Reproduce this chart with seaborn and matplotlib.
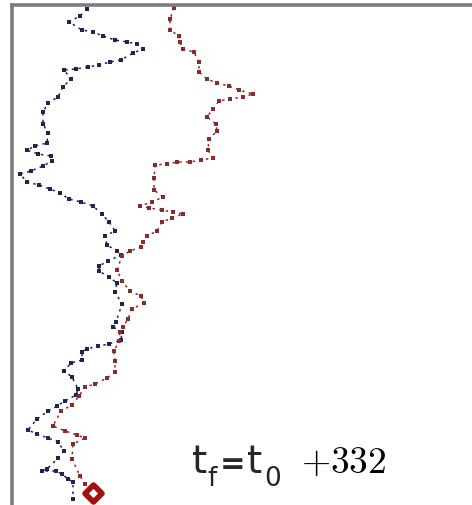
import matplotlib
matplotlib.use("Agg")
import matplotlib.pyplot as plt
import seaborn as sns
import pandas as pd

# Walker positions (horizontal, depth from the top edge)
navy_x = [87, 80, 69, 82, 93, 103, 115, 127, 137, 143, 133, 121, 110, 99, 88, 76, 64, 71, 63, 58,
          48, 43, 43, 48, 47, 35, 27, 38, 51, 52, 43, 31, 20, 27, 39, 50, 60, 69, 81, 93,
          102, 109, 115, 105, 107, 117, 121, 108, 99, 99, 109, 117, 115, 122, 116, 113, 122, 121, 109, 98,
          87, 82, 82, 71, 64, 72, 78, 76, 65, 57, 48, 37, 28, 37, 48, 58, 64, 58, 47, 42,
          56, 62, 68, 73, 73]
navy_y = [10, 17, 23, 31, 33, 37, 41, 43, 45, 50, 54, 61, 63, 66, 68, 70, 71, 80, 88, 98,
          104, 113, 125, 134, 144, 147, 151, 155, 157, 162, 167, 172, 175, 183, 186, 190, 194, 200, 203, 207,
          215, 223, 232, 237, 246, 252, 256, 262, 267, 272, 278, 284, 293, 305, 323, 328, 333, 341, 345, 347,
          350, 353, 361, 364, 372, 378, 390, 396, 402, 407, 412, 420, 431, 435, 439, 443, 452, 459, 470, 472,
          472, 475, 480, 483, 500]

red_x = [174, 170, 170, 179, 180, 183, 194, 199, 199, 207, 217, 229, 239, 253, 243, 230, 219, 213, 207, 216,
         217, 209, 208, 213, 201, 190, 177, 167, 155, 154, 154, 163, 152, 140, 149, 162, 173, 183, 172, 162,
         157, 147, 143, 141, 130, 122, 117, 122, 130, 141, 144, 132, 128, 123, 120, 119, 114, 115, 115, 107,
         95, 85, 79, 72, 61, 53, 65, 77, 85, 73, 72, 80, 85, 93]
red_y = [9, 20, 31, 37, 43, 50, 53, 63, 73, 80, 84, 87, 91, 95, 98, 100, 102, 110, 118, 125,
         132, 140, 151, 159, 161, 163, 163, 165, 166, 179, 191, 198, 203, 207, 209, 211, 213, 215, 219, 223,
         232, 237, 243, 248, 252, 257, 271, 282, 292, 297, 304, 310, 320, 328, 333, 342, 352, 362, 373, 379,
         385, 388, 397, 406, 412, 427, 432, 436, 439, 445, 460, 477, 485, 494]

elapsed = 332

sns.set_style("white")

fig = plt.figure(figsize=(4.72, 5.06), dpi=100)
ax = fig.add_axes([12 / 472, 0, 1 - 12 / 472, 1 - 6 / 506])

navy = pd.DataFrame({"x": navy_x, "y": navy_y})
red = pd.DataFrame({"x": red_x, "y": red_y})

for df, col in [(navy, "#222255"), (red, "#8c2a2a")]:
    sns.lineplot(data=df, x="x", y="y", sort=False, estimator=None, ax=ax,
                 color=col, lw=1.1, linestyle=(0, (1.6, 2.8)),
                 marker="s", markersize=2.6, markeredgewidth=0)

# final position of the red walker
sns.scatterplot(x=[red_x[-1]], y=[red_y[-1]], ax=ax, marker="D", s=75,
                facecolor="white", edgecolor="#a50f0f", linewidth=4, zorder=5)

ax.set_xlim(12, 472)
ax.set_ylim(506, 6)
ax.set_xticks([])
ax.set_yticks([])
ax.set_xlabel("")
ax.set_ylabel("")
for side in ["right", "bottom"]:
    ax.spines[side].set_visible(False)
for side in ["left", "top"]:
    ax.spines[side].set_color("#7d7d7d")
    ax.spines[side].set_linewidth(2.6)

# label: t_f = t_0 +332
base = 1 - 473 / 506
sub = 1 - 486 / 506
sans = "DejaVu Sans"
fig.text(192 / 472, base, "t", fontsize=28, family=sans, ha="left", va="baseline")
fig.text(207 / 472, sub, "f", fontsize=19, family=sans, ha="left", va="baseline")
fig.text(220 / 472, base, "=", fontsize=22, family=sans, weight="bold", ha="left", va="baseline")
fig.text(247 / 472, base, "t", fontsize=28, family=sans, ha="left", va="baseline")
fig.text(264 / 472, sub, "0", fontsize=19, family=sans, ha="left", va="baseline")
fig.text(301 / 472, base, rf"$+{elapsed}$", fontsize=27,
         math_fontfamily="cm", ha="left", va="baseline", color="black")

fig.savefig("out.png", dpi=100, facecolor="white")
